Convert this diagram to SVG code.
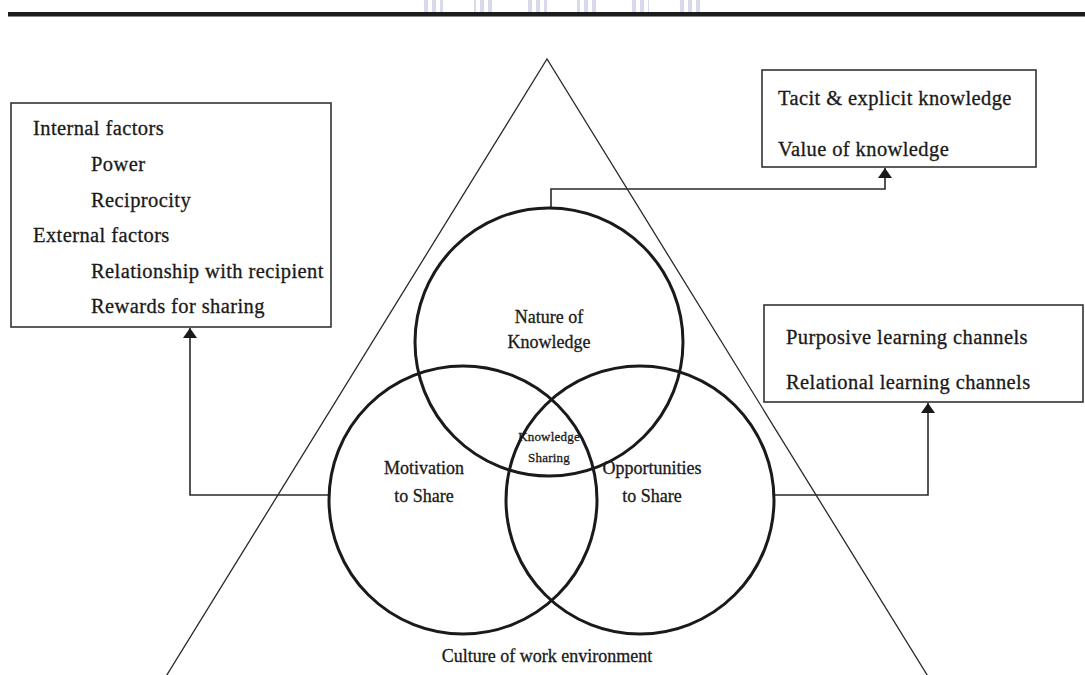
<svg xmlns="http://www.w3.org/2000/svg" width="1085" height="675" viewBox="0 0 1085 675">
  <defs>
    <marker id="arrow" viewBox="0 0 10 14" refX="10" refY="7" markerWidth="10" markerHeight="14" markerUnits="userSpaceOnUse" orient="auto">
      <path d="M0,0 L10,7 L0,14 Z" fill="#1a1a1a"/>
    </marker>
    <pattern id="stripes" x="0" y="0" width="8" height="12" patternUnits="userSpaceOnUse">
      <rect x="0" y="0" width="4" height="12" fill="#d9d9ee"/>
    </pattern>
  </defs>
  <style>
    .box { fill: #ffffff; stroke: #333333; stroke-width: 1.6; }
    .circle { fill: none; stroke: #1a1a1a; stroke-width: 3; }
    .tri { fill: none; stroke: #2a2a2a; stroke-width: 1.3; }
    .conn { fill: none; stroke: #2a2a2a; stroke-width: 1.6; }
    .txt { font-family: "Liberation Serif", "Times New Roman", serif; fill: #1a1a1a; stroke: #1a1a1a; stroke-width: 0.3; }
    .box-txt { font-size: 20.5px; letter-spacing: 0.4px; }
    .lbl { font-size: 18px; text-anchor: middle; }
    .small { font-size: 13px; letter-spacing: 0.2px; text-anchor: middle; }
  </style>

  <rect width="1085" height="675" fill="#ffffff"/>

  <!-- header rule with faint banding above it -->
  <g id="header">
    <rect x="422" y="0" width="21" height="12" fill="url(#stripes)"/>
    <rect x="474" y="0" width="21" height="12" fill="url(#stripes)"/>
    <rect x="526" y="0" width="21" height="12" fill="url(#stripes)"/>
    <rect x="577" y="0" width="21" height="12" fill="url(#stripes)"/>
    <rect x="628" y="0" width="21" height="12" fill="url(#stripes)"/>
    <rect x="680" y="0" width="21" height="12" fill="url(#stripes)"/>
    <rect x="8" y="12" width="1077" height="4" fill="#1c1c1c"/>
    <rect x="8" y="16" width="1077" height="1" fill="#8a8a8a"/>
  </g>

  <!-- culture triangle -->
  <g id="culture">
    <path class="tri" d="M165,678 L547,59 L929,678"/>
    <text class="txt lbl" x="547" y="662">Culture of work environment</text>
  </g>

  <!-- connectors from each circle to its factor box -->
  <g id="connectors">
    <path class="conn" d="M330,495 H190 V328" marker-end="url(#arrow)"/>
    <path class="conn" d="M551,208 V189 H885 V168" marker-end="url(#arrow)"/>
    <path class="conn" d="M773,495 H928 V403" marker-end="url(#arrow)"/>
  </g>

  <g id="nature">
    <circle class="circle" cx="549" cy="342" r="134"/>
    <text class="txt lbl" x="549" y="323">Nature of</text>
    <text class="txt lbl" x="549" y="348">Knowledge</text>
  </g>

  <g id="motivation">
    <circle class="circle" cx="463" cy="500" r="134"/>
    <text class="txt lbl" x="424" y="474">Motivation</text>
    <text class="txt lbl" x="424" y="502">to Share</text>
  </g>

  <g id="opportunities">
    <circle class="circle" cx="640" cy="500" r="134"/>
    <text class="txt lbl" x="652" y="474">Opportunities</text>
    <text class="txt lbl" x="652" y="502">to Share</text>
  </g>

  <g id="knowledge-sharing">
    <text class="txt small" x="549" y="441">Knowledge</text>
    <text class="txt small" x="549" y="462">Sharing</text>
  </g>

  <g id="motivation-factors">
    <rect class="box" x="11" y="103" width="320" height="224"/>
    <text class="txt box-txt" x="33" y="135">Internal factors</text>
    <text class="txt box-txt" x="91" y="171">Power</text>
    <text class="txt box-txt" x="91" y="207">Reciprocity</text>
    <text class="txt box-txt" x="33" y="242">External factors</text>
    <text class="txt box-txt" x="91" y="278">Relationship with recipient</text>
    <text class="txt box-txt" x="91" y="313">Rewards for sharing</text>
  </g>

  <g id="knowledge-factors">
    <rect class="box" x="762" y="70" width="274" height="97"/>
    <text class="txt box-txt" x="778" y="105">Tacit &amp; explicit knowledge</text>
    <text class="txt box-txt" x="778" y="156">Value of knowledge</text>
  </g>

  <g id="opportunity-factors">
    <rect class="box" x="764" y="305" width="319" height="97"/>
    <text class="txt box-txt" x="786" y="344">Purposive learning channels</text>
    <text class="txt box-txt" x="786" y="389">Relational learning channels</text>
  </g>
</svg>
